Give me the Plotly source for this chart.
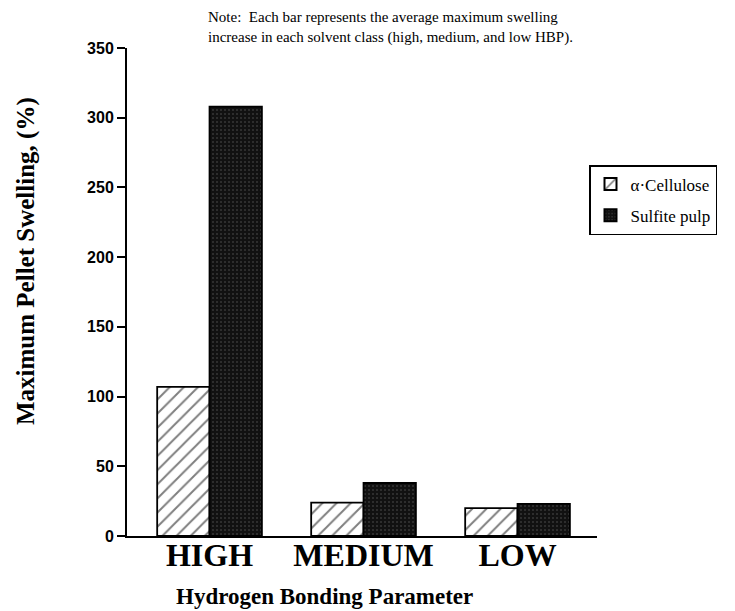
import plotly.graph_objects as go

categories = ["HIGH", "MEDIUM", "LOW"]
alpha_cellulose = [107, 24, 20]
sulfite_pulp = [308, 38, 23]
y_ticks = [0, 50, 100, 150, 200, 250, 300, 350]
note_text = ("Note:  Each bar represents the average maximum swelling<br>"
             "increase in each solvent class (high, medium, and low HBP).")

serif = "Liberation Serif, Times New Roman, serif"
sans = "Liberation Sans, Arial, sans-serif"

# page body has an 8px margin; work in page coords and convert
OFF = 8
W, H = 735 - OFF, 611 - OFF
px_l, px_r, px_t, px_b = 127, 597, 48, 536  # plot area in page pixels
L, T = px_l - OFF, px_t - OFF
R = W - (px_r - OFF)
B = H - (px_b - OFF)
plot_w = px_r - px_l
plot_h = px_b - px_t


def xp(page_x):
    return (page_x - px_l) / plot_w


def yp(page_y):
    return (px_b - page_y) / plot_h


fig = go.Figure()
fig.add_trace(go.Bar(
    x=categories, y=alpha_cellulose, name="α·Cellulose", legendgroup="a",
    marker=dict(color="white", line=dict(color="black", width=1.8),
                pattern=dict(shape="/", fgcolor="black", bgcolor="white", size=10, solidity=0.2)),
))
fig.add_trace(go.Bar(
    x=categories, y=sulfite_pulp, name="Sulfite pulp", legendgroup="b",
    marker=dict(color="#111111", line=dict(color="black", width=1.8),
                pattern=dict(shape=".", fgcolor="#5a5a5a", bgcolor="#111111", size=4, solidity=0.2)),
))

fig.update_layout(
    width=W, height=H,
    margin=dict(l=L, r=R, t=T, b=B),
    paper_bgcolor="white", plot_bgcolor="white",
    barmode="group", bargap=0.32, bargroupgap=0,
    showlegend=True,
    legend=dict(x=xp(589), y=yp(165), xanchor="left", yanchor="top",
                bordercolor="black", borderwidth=1.5, bgcolor="white",
                font=dict(family=serif, size=17, color="black"),
                itemsizing="constant", tracegroupgap=6),
    font=dict(family=serif, color="black"),
)
fig.update_xaxes(
    range=[-0.536, 2.516], showline=True, linecolor="black", linewidth=2,
    ticks="", tickfont=dict(family=serif, size=32, color="black", weight="bold"),
    ticklabelstandoff=-10,
    showgrid=False, zeroline=False, automargin=False,
)
fig.update_yaxes(
    range=[0, 350], tickvals=y_ticks, showline=True, linecolor="black", linewidth=2,
    ticks="outside", ticklen=8, tickwidth=2, tickcolor="black",
    tickfont=dict(family=sans, size=16, color="black", weight="bold"),
    showgrid=False, zeroline=False, automargin=False,
)
fig.add_annotation(
    x=xp(207), y=yp(OFF), xref="paper", yref="paper",
    xanchor="left", yanchor="top", align="left", showarrow=False,
    borderpad=0,
    text=note_text, font=dict(family=serif, size=15, color="black"),
)
fig.add_annotation(
    x=xp(26), y=yp(261), xref="paper", yref="paper",
    xanchor="center", yanchor="middle", textangle=-90, showarrow=False,
    text="<b>Maximum Pellet Swelling, (%)</b>",
    font=dict(family=serif, size=25, color="black"),
)
fig.add_annotation(
    x=xp(324), y=yp(596), xref="paper", yref="paper",
    xanchor="center", yanchor="middle", showarrow=False,
    text="<b>Hydrogen Bonding Parameter</b>",
    font=dict(family=serif, size=23, color="black"),
)
fig.write_html("out.html")
